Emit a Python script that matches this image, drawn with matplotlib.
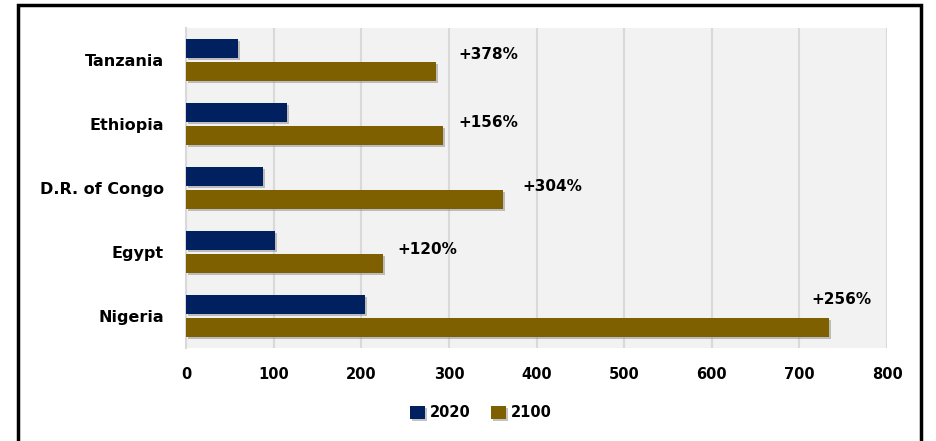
import matplotlib.pyplot as plt
import matplotlib.patches as mpatches
import matplotlib.patheffects as pe
import numpy as np

countries = ["Tanzania", "Ethiopia", "D.R. of Congo", "Egypt", "Nigeria"]
pop_2020 = [59, 115, 88, 102, 204]
pop_2100 = [285, 293, 362, 225, 734]
growth = ["+378%", "+156%", "+304%", "+120%", "+256%"]
# label offsets (points) from end of the 2100 bar, set by hand like the original
label_dx = [16, 11, 14, 10, -13]
label_dy = [12.5, 9.5, 9.5, 10, 20]

plt.rcParams['font.family'] = ['DejaVu Sans']
plt.rcParams['font.weight'] = 'bold'

fig = plt.figure(figsize=(9.36, 4.41), dpi=100)
ax = fig.add_axes([0.1987, 0.2109, 0.749, 0.7256])
ax.set_facecolor('#F2F2F2')

y = np.arange(len(countries))
h = 0.285
shadow = [pe.SimplePatchShadow(offset=(1.5, -1.5), shadow_rgbFace='#888888', alpha=0.5), pe.Normal()]
b1 = ax.barh(y - 0.18, pop_2020, height=h, color='#002060', label='2020', zorder=3, path_effects=shadow)
b2 = ax.barh(y + 0.18, pop_2100, height=h, color='#7F6000', label='2100', zorder=3, path_effects=shadow)

for i in range(len(countries)):
    ax.annotate(growth[i], (pop_2100[i], y[i] + 0.18), xytext=(label_dx[i], label_dy[i]),
                textcoords='offset points', ha='left', va='center',
                fontsize=11, fontweight='bold', color='black')

ax.set_xlim(0, 800)
ax.set_ylim(4.5, -0.5)
ax.set_xticks(range(0, 801, 100))
ax.set_yticks(y)
ax.set_yticklabels(countries)
ax.tick_params(axis='y', length=0, pad=16, labelsize=11.5)
ax.tick_params(axis='x', length=0, pad=14, labelsize=10.5)
ax.grid(axis='x', color='#D9D9D9', linewidth=1.5, zorder=0)
for s in ['top', 'right', 'bottom']:
    ax.spines[s].set_visible(False)
ax.spines['left'].set_color('#D9D9D9')
ax.spines['left'].set_linewidth(1.5)

fig.legend(handles=[b1, b2], loc='center', bbox_to_anchor=(0.514, 0.0635), ncol=2,
           frameon=False, fontsize=10.5, handlelength=1.0, handleheight=1.0,
           handletextpad=0.35, columnspacing=1.4)

frame = mpatches.Rectangle((0.019, -0.1), 0.965, 1.089, transform=fig.transFigure,
                           fill=False, edgecolor='black', linewidth=2.5)
fig.add_artist(frame)

fig.savefig('out.png', dpi=100)
